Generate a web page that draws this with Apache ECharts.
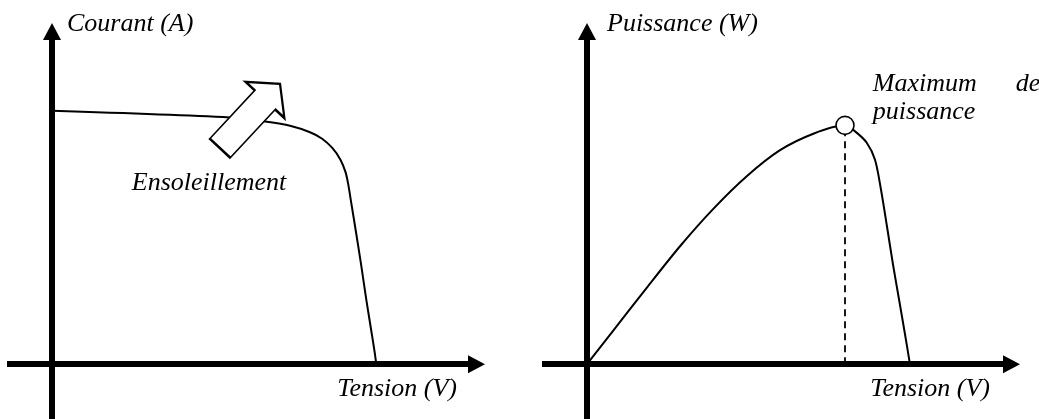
<!DOCTYPE html>
<html>
<head>
<meta charset="utf-8">
<script src="https://cdn.jsdelivr.net/npm/echarts@6/dist/echarts.min.js"></script>
<style>
html,body{margin:0;padding:0;background:#fff;}
#chart{width:1039px;height:419px;}
</style>
</head>
<body>
<div id="chart"></div>
<script>
// Caractéristique I(V)
const tensionIV = [0, 11.87, 14.33, 15.87, 17.2, 18.01, 18.7, 19.23, 19.58, 19.77, 19.92, 20.27, 20.62, 20.95, 21.29, 21.5, 21.62];
const courantIV = [5.08, 4.946, 4.86, 4.78, 4.65, 4.52, 4.33, 4.10, 3.84, 3.57, 3.29, 2.64, 1.97, 1.30, 0.66, 0.26, 0];
// Caractéristique P(V)
const tensionPV = [0, 1.75, 3.98, 6.2, 8.42, 10.65, 12.87, 15.09, 17.2, 17.87, 18.65, 19.2, 19.6, 20.0, 20.4, 20.8, 21.2, 21.53];
const puissancePV = [0, 11.2, 25.5, 39.4, 51.9, 62.8, 71.5, 77.0, 79.8, 77.8, 74.0, 68.3, 58.3, 46.0, 33.3, 21.7, 10.0, 0];
// Point de puissance maximale
const tensionMPP = 17.2;
const puissanceMPP = 79.8;
// Textes
const axisTitles = { courant: 'Courant (A)', puissance: 'Puissance (W)', tension: 'Tension (V)' };
const annotationSoleil = 'Ensoleillement';
const annotationMax = ['Maximum', 'de', 'puissance'];

const font = { fontFamily: 'Liberation Serif', fontStyle: 'italic', fontSize: 26, color: '#000' };

function zipPts(xs, ys) { return xs.map((x, i) => [x, ys[i]]); }

function xAxisDef(gridIndex, gap) {
  return {
    type: 'value', gridIndex: gridIndex, min: -3, max: 28.3,
    axisLine: { show: true, onZero: true, symbol: ['none', 'triangle'], symbolSize: [18, 17],
      lineStyle: { color: '#000', width: 6, cap: 'butt' } },
    axisTick: { show: false }, axisLabel: { show: false }, splitLine: { show: false },
    name: axisTitles.tension, nameLocation: 'end', nameGap: gap,
    nameTextStyle: Object.assign({}, font, { align: 'right', verticalAlign: 'top', padding: [12, 0, 0, 0] })
  };
}
function yAxisDef(gridIndex, min, max, name, padLeft) {
  return {
    type: 'value', gridIndex: gridIndex, min: min, max: max,
    axisLine: { show: true, onZero: true, symbol: ['none', 'triangle'], symbolSize: [18, 17],
      lineStyle: { color: '#000', width: 6, cap: 'butt' } },
    axisTick: { show: false }, axisLabel: { show: false }, splitLine: { show: false },
    name: name, nameLocation: 'end', nameGap: 7,
    nameTextStyle: Object.assign({}, font, { align: 'left', verticalAlign: 'middle', padding: [0, 0, 0, padLeft] })
  };
}

const arrowPath = 'path://M0,-14L66,-14L66,-26.5L88,0L66,26.5L66,14L0,14Z';

const option = {
  animation: false,
  backgroundColor: '#fff',
  grid: [
    { left: 7, top: 31.5, width: 469.5, height: 388.5 },
    { left: 542, top: 31.5, width: 469.5, height: 388.5 }
  ],
  xAxis: [xAxisDef(0, -19.5), xAxisDef(1, -21.5)],
  yAxis: [
    yAxisDef(0, -1.1, 6.67, axisTitles.courant, 15),
    yAxisDef(1, -18.33, 111.17, axisTitles.puissance, 20)
  ],
  series: [
    {
      type: 'line', xAxisIndex: 0, yAxisIndex: 0, data: zipPts(tensionIV, courantIV),
      smooth: 0.3, symbol: 'none', lineStyle: { color: '#000', width: 2 }, z: 3
    },
    {
      type: 'scatter', xAxisIndex: 0, yAxisIndex: 0, data: [[13.2, 4.975]],
      symbol: arrowPath, symbolSize: [88, 53], symbolRotate: 47,
      itemStyle: { color: '#fff', borderColor: '#000', borderWidth: 2, opacity: 1 }, z: 5, silent: true
    },
    {
      type: 'scatter', xAxisIndex: 0, yAxisIndex: 0, data: [[10.47, 3.62]],
      symbolSize: 0, itemStyle: { color: 'rgba(0,0,0,0)', opacity: 1 }, z: 6, silent: true,
      label: Object.assign({ show: true, position: 'inside', formatter: annotationSoleil }, font)
    },
    {
      type: 'line', xAxisIndex: 1, yAxisIndex: 1, data: zipPts(tensionPV, puissancePV),
      smooth: 0.3, symbol: 'none', lineStyle: { color: '#000', width: 2 }, z: 3
    },
    {
      type: 'line', xAxisIndex: 1, yAxisIndex: 1, data: [[tensionMPP, 0], [tensionMPP, puissanceMPP]],
      symbol: 'none', lineStyle: { color: '#000', width: 1.8, type: [7, 5] }, z: 2
    },
    {
      type: 'scatter', xAxisIndex: 1, yAxisIndex: 1, data: [[tensionMPP, puissanceMPP]],
      symbol: 'circle', symbolSize: 18, silent: true,
      itemStyle: { color: '#fff', borderColor: '#000', borderWidth: 1.6, opacity: 1 }, z: 5,
      label: {
        show: true, position: 'right', distance: 18, offset: [0, -27],
        formatter: '{a|' + annotationMax[0] + '}{b|' + annotationMax[1] + '}\n{a|' + annotationMax[2] + '}',
        lineHeight: 28,
        rich: {
          a: Object.assign({}, font, { width: 143, lineHeight: 28 }),
          b: Object.assign({}, font, { lineHeight: 28 })
        }
      }
    }
  ]
};

const chart = echarts.init(document.getElementById('chart'), null, { renderer: 'canvas' });
chart.setOption(option);
</script>
</body>
</html>
